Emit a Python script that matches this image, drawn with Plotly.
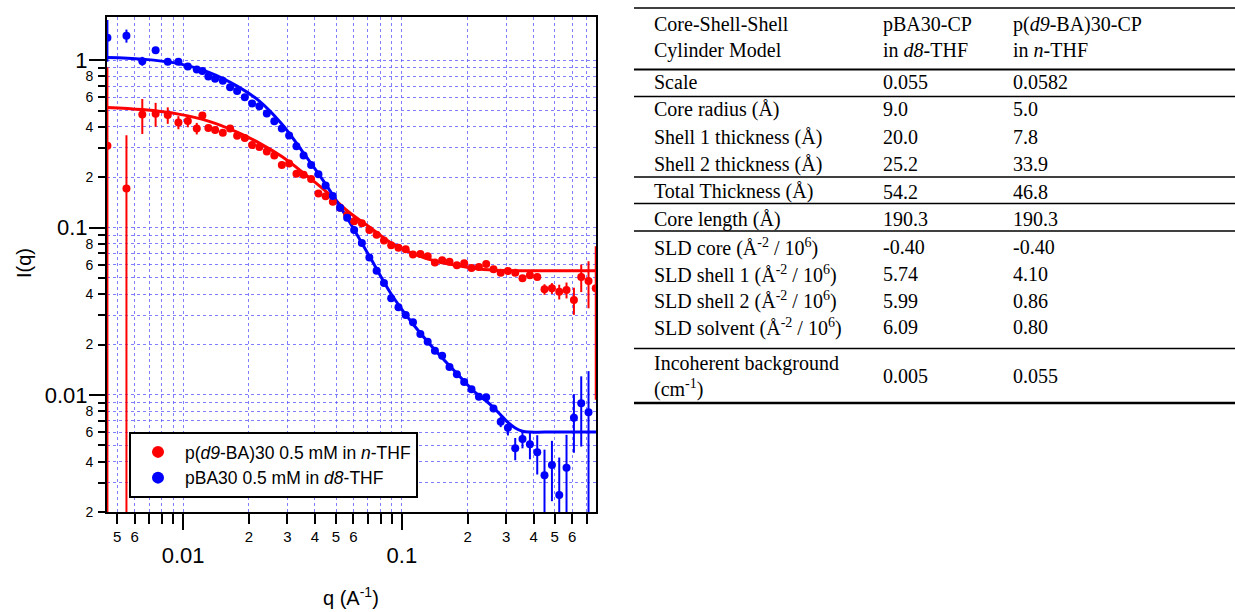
import math
import plotly.graph_objects as go

# ---------------- data ----------------
Q = [0.00451, 0.00551, 0.00651, 0.00749, 0.00851, 0.00952, 0.01051, 0.01155, 0.01225, 0.01305,
     0.01401, 0.01519, 0.0164, 0.01766, 0.01915, 0.02068, 0.02233, 0.02414, 0.02612, 0.02827,
     0.03053, 0.03297, 0.03556, 0.03848, 0.04157, 0.04483, 0.04836, 0.05222, 0.05622, 0.06051,
     0.06565, 0.07102, 0.07667, 0.08283, 0.08935, 0.09649, 0.1041, 0.1124, 0.1215, 0.1312,
     0.1416, 0.1528, 0.1651, 0.1784, 0.1927, 0.2081, 0.225, 0.2429, 0.2623, 0.283,
     0.3053, 0.3297, 0.3559, 0.3848, 0.4157, 0.4487, 0.4852, 0.524, 0.5657, 0.6115,
     0.6604, 0.7131, 0.7694]

# p(d9-BA)30 0.5 mM in n-THF
I_RED = [0.3078, 0.1714, 0.4741, 0.478, 0.4695, 0.4247, 0.4323, 0.391, 0.4677, 0.3926,
         0.382, 0.369, 0.391, 0.3533, 0.3423, 0.3108, 0.3024, 0.2843, 0.2698, 0.2361,
         0.241, 0.2093, 0.2067, 0.1948, 0.16, 0.1536, 0.1426, 0.1311, 0.1187, 0.1089,
         0.106, 0.09663, 0.09059, 0.08365, 0.07831, 0.07576, 0.07421, 0.06901, 0.06948, 0.06732,
         0.0618, 0.0637, 0.06248, 0.05947, 0.06113, 0.0573, 0.0581, 0.06054, 0.05636, 0.05372,
         0.055, 0.05372, 0.04975, 0.05192, 0.05065, 0.04276, 0.04335, 0.04136, 0.04235, 0.03691,
         0.05065, 0.04793, 0.04335]
ERR_RED = [0.6, 0.185, 0.112, 0.078, 0.053, 0.038, 0.035, 0.031, 0, 0,
           0, 0, 0, 0, 0, 0, 0, 0, 0, 0,
           0, 0, 0, 0, 0, 0, 0, 0, 0, 0,
           0, 0, 0, 0, 0, 0, 0, 0, 0, 0,
           0, 0, 0, 0, 0, 0, 0, 0, 0, 0,
           0, 0, 0, 0, 0, 0.0031, 0.0032, 0.0042, 0.0046, 0.0068,
           0.0095, 0.015, 0.034]

# pBA30 0.5 mM in d8-THF
I_BLUE = [1.359, 1.397, 0.986, 1.147, 0.9795, 0.9795, 0.917, 0.88, 0.86, 0.799,
          0.7733, 0.7544, 0.688, 0.6548, 0.5997, 0.5514, 0.53, 0.4807, 0.4311, 0.391,
          0.3543, 0.3058, 0.2698, 0.2361, 0.2081, 0.1786, 0.1542, 0.1311, 0.1143, 0.09663,
          0.08083, 0.06622, 0.05522, 0.04663, 0.03779, 0.03339, 0.03003, 0.02716, 0.02313, 0.02081,
          0.01839, 0.01714, 0.01469, 0.01331, 0.01196, 0.01081, 0.00977, 0.0097, 0.0083, 0.006928,
          0.006379, 0.004806, 0.005461, 0.005077, 0.004549, 0.003316, 0.003821, 0.002529, 0.003681, 0.007318,
          0.00892, 0.007882]
ERR_BLUE = [0.38, 0.125, 0.06, 0, 0, 0, 0, 0, 0, 0,
            0, 0, 0, 0, 0, 0, 0, 0, 0, 0,
            0, 0, 0, 0, 0, 0, 0, 0, 0, 0,
            0, 0, 0, 0, 0, 0, 0, 0, 0, 0,
            0, 0, 0, 0, 0, 0, 0, 0.0003, 0.0004, 0.0005,
            0.00065, 0.00073, 0.00066, 0.00095, 0.0012, 0.0014, 0.0015, 0.0017, 0.0021, 0.0028,
            0.004, 0.006]

# core-shell-shell cylinder fits
Q_FIT_BLUE = [0.0045, 0.00651, 0.00952, 0.01305, 0.01766, 0.02233, 0.02827, 0.03556, 0.04483, 0.05622,
              0.07102, 0.08935, 0.1124, 0.1416, 0.1784, 0.2081, 0.225, 0.2429, 0.2623, 0.283,
              0.3053, 0.3297, 0.3559, 0.3848, 0.4487, 0.7715]
I_FIT_BLUE = [1.038, 1.014, 0.953, 0.848, 0.6995, 0.5692, 0.4149, 0.2785, 0.1818, 0.114,
              0.06757, 0.04009, 0.02654, 0.01857, 0.01344, 0.01086, 0.009931, 0.009208, 0.00842, 0.007598,
              0.006851, 0.006353, 0.006071, 0.006, 0.006, 0.006]
Q_FIT_RED = [0.0045, 0.00651, 0.00952, 0.01305, 0.01766, 0.02233, 0.02827, 0.03556, 0.04483, 0.05622,
             0.07102, 0.08935, 0.1124, 0.1416, 0.1784, 0.225, 0.283, 0.3848, 0.7715]
I_FIT_RED = [0.522, 0.5064, 0.476, 0.4323, 0.3716, 0.3196, 0.2654, 0.2116, 0.1652, 0.126,
             0.1007, 0.08083, 0.06996, 0.0631, 0.05931, 0.05652, 0.05538, 0.0552, 0.0552]

LABEL_RED = "p(<i>d9</i>-BA)30 0.5 mM in <i>n</i>-THF"
LABEL_BLUE = "pBA30 0.5 mM in <i>d8</i>-THF"

# axis ticks
X_RANGE = [0.00449, 0.7715]
X_MINOR_TICKS = [0.005, 0.006, 0.007, 0.008, 0.009,
                 0.02, 0.03, 0.04, 0.05, 0.06, 0.07, 0.08, 0.09,
                 0.2, 0.3, 0.4, 0.5, 0.6, 0.7]
X_MINOR_LABELS = ["5", "6", "", "", "",
                  "2", "3", "4", "5", "6", "", "", "",
                  "2", "3", "4", "5", "6", ""]
X_MAJOR_TICKS = [0.01, 0.1]
X_MAJOR_LABELS = ["0.01", "0.1"]

Y_RANGE = [0.002, 1.81]
Y_MINOR_TICKS = [0.002, 0.003, 0.004, 0.005, 0.006, 0.007, 0.008, 0.009,
                 0.02, 0.03, 0.04, 0.05, 0.06, 0.07, 0.08, 0.09,
                 0.2, 0.3, 0.4, 0.5, 0.6, 0.7, 0.8, 0.9]
Y_MINOR_LABELS = ["2", "", "4", "", "6", "", "8", "",
                  "2", "", "4", "", "6", "", "8", "",
                  "2", "", "4", "", "6", "", "8", ""]
Y_MAJOR_TICKS = [0.01, 0.1, 1]
Y_MAJOR_LABELS = ["0.01", "0.1", "1"]

# fit parameter table
TABLE_HEADER = ["Core-Shell-Shell<br>Cylinder Model",
                "pBA30-CP<br>in <i>d8</i>-THF",
                "p(<i>d9</i>-BA)30-CP<br>in <i>n</i>-THF"]
TABLE_PARAMS = ["Scale",
                "Core radius (Å)",
                "Shell 1 thickness (Å)",
                "Shell 2 thickness (Å)",
                "Total Thickness (Å)",
                "Core length (Å)",
                "SLD core (Å<sup>-2</sup> / 10<sup>6</sup>)",
                "SLD shell 1 (Å<sup>-2</sup> / 10<sup>6</sup>)",
                "SLD shell 2 (Å<sup>-2</sup> / 10<sup>6</sup>)",
                "SLD solvent (Å<sup>-2</sup> / 10<sup>6</sup>)",
                "Incoherent background<br>(cm<sup>-1</sup>)"]
TABLE_PBA30 = ["0.055", "9.0", "20.0", "25.2", "54.2", "190.3",
               "-0.40", "5.74", "5.99", "6.09", "0.005"]
TABLE_PD9BA30 = ["0.0582", "5.0", "7.8", "33.9", "46.8", "190.3",
                 "-0.40", "4.10", "0.86", "0.80", "0.055"]

# ---------------- layout geometry (pixels) ----------------
W, H = 1235, 612
PL, PR, PT, PB = 107, 596, 17, 512


def px_x(px):
    return (px - PL) / (PR - PL)


def px_y(py):
    return (PB - py) / (PB - PT)


SANS = "Liberation Sans, Arial, sans-serif"
SERIF = "Liberation Serif, Times New Roman, serif"
RED = "#ff0000"
BLUE = "#0000ff"
GRID = "rgba(85,85,255,0.75)"

fig = go.Figure()

# fitted model curves
fig.add_trace(go.Scatter(x=Q_FIT_RED, y=I_FIT_RED, mode="lines", line=dict(color=RED, width=3, shape="spline"),
                         showlegend=False, hoverinfo="skip"))
fig.add_trace(go.Scatter(x=Q_FIT_BLUE, y=I_FIT_BLUE, mode="lines", line=dict(color=BLUE, width=3, shape="spline"),
                         showlegend=False, hoverinfo="skip"))

# measured data with error bars
fig.add_trace(go.Scatter(x=Q, y=I_RED, mode="markers", name=LABEL_RED,
                         marker=dict(color=RED, size=8, symbol="circle"),
                         error_y=dict(type="data", array=ERR_RED, visible=True, color=RED, thickness=2, width=0)))
fig.add_trace(go.Scatter(x=Q[:len(I_BLUE)], y=I_BLUE, mode="markers", name=LABEL_BLUE,
                         marker=dict(color=BLUE, size=8, symbol="circle"),
                         error_y=dict(type="data", array=ERR_BLUE, visible=True, color=BLUE, thickness=2, width=0)))

x_vals = sorted(X_MINOR_TICKS + X_MAJOR_TICKS)
x_text = [X_MINOR_LABELS[X_MINOR_TICKS.index(v)] if v in X_MINOR_TICKS else "" for v in x_vals]
y_vals = sorted(Y_MINOR_TICKS + Y_MAJOR_TICKS)
y_text = [Y_MINOR_LABELS[Y_MINOR_TICKS.index(v)] if v in Y_MINOR_TICKS else "" for v in y_vals]

x_range = [math.log10(v) for v in X_RANGE]
y_range = [math.log10(v) for v in Y_RANGE]

axis_common = dict(type="log", ticks="outside", tickwidth=2, tickcolor="black",
                   showline=True, linewidth=2, linecolor="black", mirror=True,
                   showgrid=True, gridcolor=GRID, gridwidth=1, griddash="3px,3px",
                   zeroline=False, layer="below traces")

fig.update_layout(
    width=W, height=H,
    margin=dict(l=PL, r=W - PR, t=PT, b=H - PB, pad=0),
    paper_bgcolor="white", plot_bgcolor="white",
    font=dict(family=SANS, color="black"),
    xaxis=dict(range=x_range, tickmode="array", tickvals=x_vals, ticktext=x_text, ticklen=10,
               tickfont=dict(family=SANS, size=15, color="black"), ticklabelstandoff=0, **axis_common),
    yaxis=dict(range=y_range, tickmode="array", tickvals=y_vals, ticktext=y_text, ticklen=7,
               tickfont=dict(family=SANS, size=14, color="black"), ticklabelstandoff=2, **axis_common),
    xaxis2=dict(type="log", overlaying="x", anchor="y", side="bottom", range=x_range,
                tickmode="array", tickvals=X_MAJOR_TICKS, ticktext=X_MAJOR_LABELS,
                ticks="outside", ticklen=17, tickwidth=2, tickcolor="black",
                tickfont=dict(family=SANS, size=22, color="black"), ticklabelstandoff=7,
                showgrid=False, showline=False, zeroline=False),
    yaxis2=dict(type="log", overlaying="y", anchor="x", side="left", range=y_range,
                tickmode="array", tickvals=Y_MAJOR_TICKS, ticktext=Y_MAJOR_LABELS,
                ticks="outside", ticklen=17, tickwidth=2, tickcolor="black",
                tickfont=dict(family=SANS, size=22, color="black"), ticklabelstandoff=-3,
                showgrid=False, showline=False, zeroline=False),
    legend=dict(x=px_x(129), y=px_y(432), xanchor="left", yanchor="top",
                bgcolor="white", bordercolor="black", borderwidth=2,
                font=dict(family=SANS, size=17.5, color="black"), itemsizing="constant",
                itemwidth=44, tracegroupgap=0),
    showlegend=True,
)

# invisible trace binding the overlay axes
fig.add_trace(go.Scatter(x=[None], y=[None], xaxis="x2", yaxis="y2", showlegend=False, hoverinfo="skip"))

annotations = []
# axis titles
annotations.append(dict(text="I(q)", x=px_x(24), y=px_y(263), xref="paper", yref="paper",
                        textangle=-90, showarrow=False, xanchor="center", yanchor="middle",
                        font=dict(family=SANS, size=20, color="black")))
annotations.append(dict(text="q (A<sup>-1</sup>)", x=px_x(351), y=px_y(596), xref="paper", yref="paper",
                        showarrow=False, xanchor="center", yanchor="middle",
                        font=dict(family=SANS, size=20, color="black")))

# table text
COL_X = [652, 881, 1011]
HEADER_Y = 37
ROW_Y = [82, 109.5, 137, 164, 192, 219.5, 247, 274, 301, 327.5, 376]
tfont = dict(family=SERIF, size=20, color="black")
for cx, txt in zip(COL_X, TABLE_HEADER):
    annotations.append(dict(text=txt, x=px_x(cx), y=px_y(HEADER_Y), xref="paper", yref="paper",
                            showarrow=False, xanchor="left", yanchor="middle", align="left", font=tfont))
for ry, a, b, c in zip(ROW_Y, TABLE_PARAMS, TABLE_PBA30, TABLE_PD9BA30):
    for cx, txt in zip(COL_X, (a, b, c)):
        annotations.append(dict(text=txt, x=px_x(cx), y=px_y(ry), xref="paper", yref="paper",
                                showarrow=False, xanchor="left", yanchor="middle", align="left", font=tfont))
fig.update_layout(annotations=annotations)

# table rules
RULES = [(8, 1.5), (69.5, 2), (96.5, 1.5), (177, 1.5), (203.5, 1.5), (231, 1.5), (348.5, 1.5), (403, 2.5)]
shapes = []
for ry, lw in RULES:
    shapes.append(dict(type="line", xref="paper", yref="paper", x0=px_x(634), x1=px_x(1235),
                       y0=px_y(ry), y1=px_y(ry), line=dict(color="black", width=lw)))
fig.update_layout(shapes=shapes)

fig.write_html("out.html")
